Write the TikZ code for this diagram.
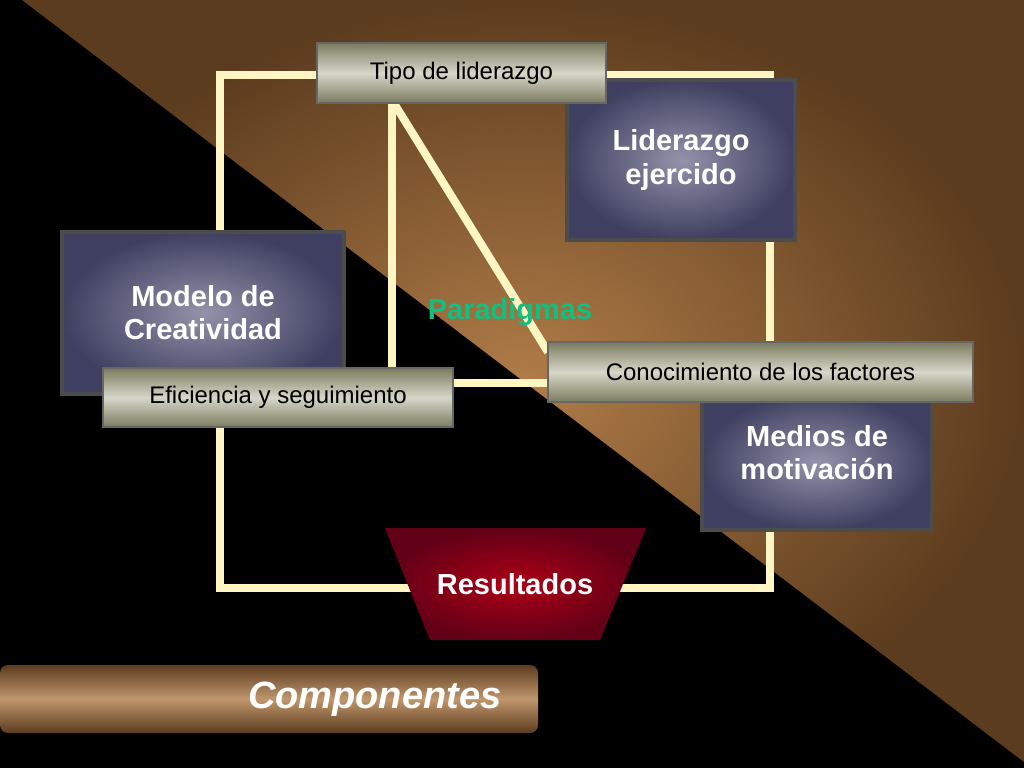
\documentclass[tikz,border=0pt]{standalone}
\usepackage{fontspec}
\setmainfont{Liberation Sans}
\usetikzlibrary{positioning,shapes.geometric}
\definecolor{cream}{HTML}{FFF6C4}
\definecolor{slate}{HTML}{4A4A72}
\definecolor{olive}{HTML}{9A9A78}
\definecolor{wine}{HTML}{8A0020}
\definecolor{tan}{HTML}{B07C48}
\definecolor{bark}{HTML}{5C3C1E}
\definecolor{mint}{HTML}{10C080}
\tikzset{
  bigbox/.style={rectangle, draw=black!70, line width=4pt, inner color=slate!60!white, outer color=slate!85!black,
    text=white, font=\bfseries\fontsize{29}{33}\selectfont, align=center, anchor=north west},
  tagbox/.style={rectangle, draw=black!60, line width=2pt, top color=olive!80!black, bottom color=olive!80!black, middle color=olive!40!white,
    text=black, font=\fontsize{24}{28}\selectfont, anchor=north west},
  frame/.style={cream, line width=8pt}
}
\begin{document}
\begin{tikzpicture}[x=1pt,y=-1pt]
  % background
  \fill[black] (0,0) rectangle (1024,768);
  \shade[inner color=tan, outer color=bark] (22,0) -- (1024,0) -- (1024,762) -- cycle;
  \useasboundingbox (0,0) rectangle (1024,768);

  % frame
  \coordinate (tl) at (220,75);
  \coordinate (br) at (770,588);
  \draw[frame] (tl) rectangle (br);
  \coordinate (v1) at (392,75);
  \coordinate (v2) at (392,383);
  \coordinate (h2) at (560,383);
  \coordinate (d1) at (392,100);
  \coordinate (d2) at (548,352);
  \draw[frame] (v1) -- (v2) -- (h2);
  \draw[frame] (d1) -- (d2);

  % boxes
  \node[bigbox, minimum width=228, minimum height=160] (lider) at (565,78) {Liderazgo\\ ejercido};
  \node[bigbox, minimum width=282, minimum height=162] (modelo) at (60,230) {Modelo de\\Creatividad};
  \node[bigbox, minimum width=230, minimum height=136] (medios) at (700,392) {Medios de\\motivación\\[-14pt]};
  \node[tagbox, minimum width=289, minimum height=60] (tipo) at (316,42) {Tipo de liderazgo};
  \node[tagbox, minimum width=350, minimum height=59] (efic) at (102,367) {Eficiencia y seguimiento};
  \node[tagbox, minimum width=425, minimum height=60] (conoc) at (547,341) {Conocimiento de los factores};

  \node[text=mint, font=\bfseries\fontsize{29}{33}\selectfont] (parad) at (510,312) {Paradigmas};

  % result trapezoid
  \shade[inner color=wine!70!red, outer color=wine!70!black] (385,528) -- (646,528) -- (600,640) -- (430,640) -- cycle;
  \node[text=white, font=\bfseries\fontsize{29}{33}\selectfont] (res) at (515,584) {Resultados};

  % title bar
  \shade[rounded corners=8pt, top color=bark, bottom color=bark, middle color=tan!80!white] (0,665) rectangle (538,733);
  \node[text=white, font=\bfseries\itshape\fontsize{38}{42}\selectfont, anchor=east] (comp) at (505,699) {Componentes};
\end{tikzpicture}
\end{document}
